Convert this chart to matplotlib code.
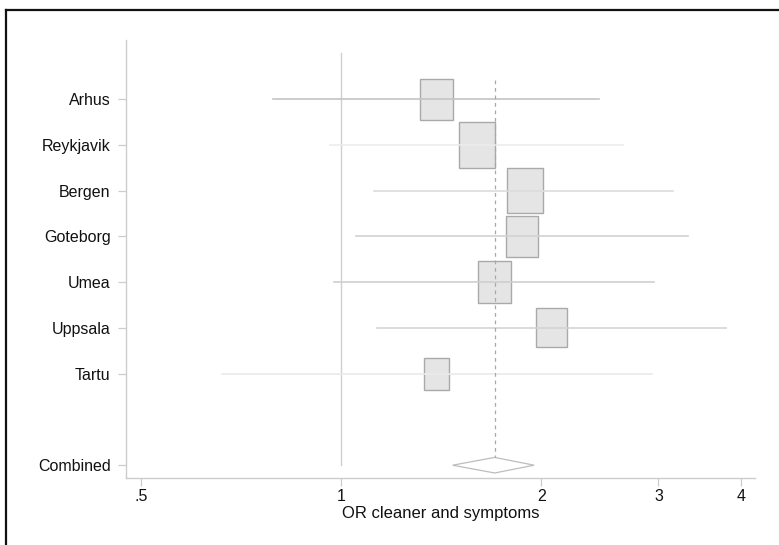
import numpy as np
import matplotlib.pyplot as plt
from matplotlib.patches import Rectangle, Polygon
from matplotlib.lines import Line2D

plt.rcParams['font.family'] = ['Liberation Sans', 'DejaVu Sans']

# study estimates (odds ratios with 95% CI)
studies = ['Arhus', 'Reykjavik', 'Bergen', 'Goteborg', 'Umea', 'Uppsala', 'Tartu']
odds_ratio = [1.39, 1.60, 1.89, 1.87, 1.70, 2.07, 1.39]
ci_low = [0.79, 0.96, 1.12, 1.05, 0.975, 1.13, 0.66]
ci_high = [2.44, 2.65, 3.16, 3.32, 2.95, 3.79, 2.93]
weights = [14.3, 17.8, 17.3, 13.8, 15.2, 13.0, 8.6]

combined_label = 'Combined'
combined_or = 1.70
combined_low = 1.47
combined_high = 1.95

xticks = [0.5, 1, 2, 3, 4]
xtick_labels = ['.5', '1', '2', '3', '4']

ci_colors = ['#c4c4c4', '#ececec', '#dcdcdc', '#d2d2d2', '#cfcfcf', '#d4d4d4', '#eaeaea']

fig = plt.figure(figsize=(7.79, 5.45), dpi=100)
ax = fig.add_axes([0.1617, 0.1229, 0.8075, 0.8037])
ax.set_xscale('log')
ax.set_xlim(0.4738, 4.192)
ax.set_ylim(9.28, -0.29)

rows = np.arange(1, len(studies) + 1)
combined_row = 9

# null line and pooled estimate line
ax.plot([1, 1], [0.0, combined_row], color='#cfcfcf', lw=1.0, zorder=1)
ax.plot([combined_or, combined_or], [0.585, combined_row - 0.17],
        color='#a8a8a8', lw=0.9, ls=(0, (3, 3)), zorder=4)

# boxes sized by weight, CI lines
for r, est, lo, hi, w, c in zip(rows, odds_ratio, ci_low, ci_high, weights, ci_colors):
    h = 0.237 * np.sqrt(w)              # height in row units
    half_log = (h * 45.75 / 1.27) / 200 / 2   # half width in log2 units
    left = est * 2 ** (-half_log)
    right = est * 2 ** half_log
    ax.add_patch(Rectangle((left, r - h / 2), right - left, h,
                           facecolor='#e5e5e5', edgecolor='#a9a9a9', lw=1.0, zorder=2))
    ax.plot([lo, hi], [r, r], color=c, lw=1.2, zorder=3)

# combined diamond
dh = 0.17
ax.add_patch(Polygon([[combined_low, combined_row], [combined_or, combined_row - dh],
                      [combined_high, combined_row], [combined_or, combined_row + dh]],
                     closed=True, facecolor='white', edgecolor='#bdbdbd', lw=0.9, zorder=3))

ax.set_yticks(list(rows) + [combined_row])
ax.set_yticklabels(studies + [combined_label])
ax.set_xticks(xticks)
ax.set_xticklabels(xtick_labels)
ax.minorticks_off()
ax.set_xlabel('OR cleaner and symptoms', fontsize=12, labelpad=1, color='#111111')

for side in ['top', 'right']:
    ax.spines[side].set_visible(False)
for side in ['left', 'bottom']:
    ax.spines[side].set_color('#cccccc')
    ax.spines[side].set_linewidth(1.0)
ax.tick_params(axis='both', colors='#cccccc', labelcolor='#111111', length=6,
               width=0.9, labelsize=11.5)
ax.tick_params(axis='y', pad=5)
ax.tick_params(axis='x', pad=2)

# outer frame (top and left edges visible)
fig.add_artist(Line2D([6 / 779, 1.0], [1 - 10 / 545, 1 - 10 / 545],
                      transform=fig.transFigure, color='#111111', lw=1.6))
fig.add_artist(Line2D([6 / 779, 6 / 779], [0.0, 1 - 10 / 545],
                      transform=fig.transFigure, color='#111111', lw=1.6))

fig.savefig('out.png', dpi=100)
